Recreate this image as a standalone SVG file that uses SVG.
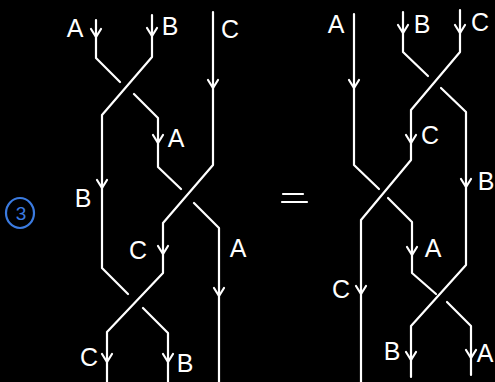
<svg xmlns="http://www.w3.org/2000/svg" xmlns:xlink="http://www.w3.org/1999/xlink" width="495" height="382" viewBox="0 0 495 382">
<style>
.s{fill:none;stroke:#ffffff;stroke-width:2.2;stroke-linecap:round;stroke-linejoin:round}
.l{font-family:"Liberation Sans",Arial,sans-serif;font-size:25px;fill:#ffffff;text-anchor:middle}
.b{fill:none;stroke:#3b7be0;stroke-width:2.2}
</style>
<defs>
<path id="arr" class="s" d="M-5,-8 L0,0 L5,-8"/>
</defs>
<rect width="495" height="382" fill="#000000"/>
<g id="connectors">
<!-- left braid -->
<path id="strandA-left" class="s" d="M96,20 V58 L120,82 M134,94 L158,118 V167 L181,189 M194,203 L219,228 V382"/>
<path id="strandB-left" class="s" d="M152,15 V57 L102,115 V268 L128,294 M143,308 L168,333 V382"/>
<path id="strandC-left" class="s" d="M213,12 V165 L163,223 V273 L107,332 V382"/>
<!-- right braid -->
<path id="strandA-right" class="s" d="M354,14 V165 L379,189 M388,198 L412,222 V273 L436,294 M447,302 L471,326 V375"/>
<path id="strandB-right" class="s" d="M403,12 V52 L428,76 M441,88 L466,112 V265 L411,326 V377"/>
<path id="strandC-right" class="s" d="M460,10 V52 L411,110 V160 L361,220 V382"/>
<!-- arrowheads -->
<use xlink:href="#arr" x="96" y="37"/>
<use xlink:href="#arr" x="152" y="36"/>
<use xlink:href="#arr" x="213" y="88"/>
<use xlink:href="#arr" x="158" y="143"/>
<use xlink:href="#arr" x="102" y="188"/>
<use xlink:href="#arr" x="163" y="254"/>
<use xlink:href="#arr" x="219" y="296"/>
<use xlink:href="#arr" x="107" y="362"/>
<use xlink:href="#arr" x="168" y="362"/>
<use xlink:href="#arr" x="354" y="88"/>
<use xlink:href="#arr" x="403" y="33"/>
<use xlink:href="#arr" x="460" y="33"/>
<use xlink:href="#arr" x="411" y="143"/>
<use xlink:href="#arr" x="466" y="187"/>
<use xlink:href="#arr" x="412" y="255"/>
<use xlink:href="#arr" x="361" y="294"/>
<use xlink:href="#arr" x="411" y="360"/>
<use xlink:href="#arr" x="471" y="358"/>
</g>
<g id="labels-left">
<text class="l" x="75" y="37">A</text>
<text class="l" x="170" y="35">B</text>
<text class="l" x="230" y="38">C</text>
<text class="l" x="176" y="147">A</text>
<text class="l" x="83" y="207">B</text>
<text class="l" x="138" y="259">C</text>
<text class="l" x="238" y="257">A</text>
<text class="l" x="89" y="366">C</text>
<text class="l" x="185" y="372">B</text>
</g>
<g id="labels-right">
<text class="l" x="336" y="33">A</text>
<text class="l" x="422" y="33">B</text>
<text class="l" x="480" y="31">C</text>
<text class="l" x="430" y="144">C</text>
<text class="l" x="486" y="190">B</text>
<text class="l" x="433" y="257">A</text>
<text class="l" x="341" y="298">C</text>
<text class="l" x="392" y="360">B</text>
<text class="l" x="485" y="362">A</text>
</g>
<g id="equals">
<path class="s" d="M283,194 H303 M282,202 H307"/>
</g>
<g id="step-number">
<ellipse class="b" cx="20" cy="213" rx="14" ry="15"/>
<text x="21" y="220" font-family="Liberation Sans, Arial, sans-serif" font-size="19" fill="#3b7be0" text-anchor="middle">3</text>
</g>
</svg>
